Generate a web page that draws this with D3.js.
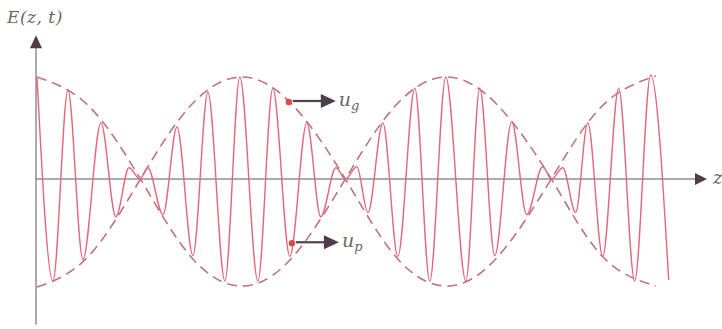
<!DOCTYPE html>
<html>
<head>
<meta charset="utf-8">
<script src="https://cdn.jsdelivr.net/npm/d3@7"></script>
<style>
  body { margin: 0; background: #fff; }
  svg { display: block; }
</style>
</head>
<body>
<svg id="wave" width="722" height="329"></svg>
<script>
// carrier extrema (z in arbitrary units, E normalised)
const carrierZ = [0, 0.78, 1.51, 2.24, 3.12, 3.85, 4.49, 5.02, 5.41, 6.15, 6.83, 7.61, 8.34, 9.17, 9.9,
  10.78, 11.51, 12.34, 13.17, 13.85, 14.59, 15.05, 15.61, 16.15, 16.88, 17.61, 18.44, 19.17, 19.95,
  20.93, 21.61, 22.34, 23.17, 23.9, 24.68, 25.12, 25.66, 26.29, 26.88, 27.61, 28.39, 29.17, 29.95, 30.83];
const carrierE = [1.0, -1.0, 0.87, -0.79, 0.55, -0.37, 0.11, 0.0, 0.11, -0.35, 0.51, -0.75, 0.85, -1.0, 1.0,
  -1.0, 0.89, -0.76, 0.55, -0.37, 0.11, 0.0, 0.12, -0.33, 0.55, -0.76, 0.89, -1.0, 1.0,
  -1.0, 0.89, -0.75, 0.56, -0.35, 0.12, 0.0, 0.11, -0.33, 0.55, -0.76, 0.89, -1.0, 1.02, -0.99];

// envelope (dashed), two mirrored curves
const envZ = [0, 2.5, 5.05, 7.5, 10.0, 12.5, 15.05, 17.5, 20.0, 22.5, 25.1, 27.6, 30.2];
const envA = [1.0, 0.72, 0, -0.76, -1.05, -0.76, 0, 0.72, 1.0, 0.72, 0, -0.76, -1.05];
const envB = [-1.06, -0.76, 0, 0.72, 1.0, 0.72, 0, -0.76, -1.05, -0.76, 0, 0.72, 1.01];

// axis extents and marker positions
const zAxisEnd = 32.7;
const eAxisTop = 1.41, eAxisBottom = -1.43;
const markers = [
  { z: 12.29, e: 0.755, label: "u", sub: "g" },
  { z: 12.44, e: -0.63, label: "u", sub: "p" }
];

const serif = '"DejaVu Serif", "Liberation Serif", serif';

const svg = d3.select("svg#wave");
const x = d3.scaleLinear().domain([0, zAxisEnd]).range([37, 707]);
const y = d3.scaleLinear().domain([-1, 1]).range([281, 77]);

const toPts = (zs, es) => zs.map((z, i) => ({ z: z, e: es[i] }));

const envLine = d3.line().curve(d3.curveNatural).x(d => x(d.z)).y(d => y(d.e));
const carLine = d3.line().curve(d3.curveMonotoneX).x(d => x(d.z)).y(d => y(d.e));

// axes
const axisCol = "#5a5458";
svg.append("line")
  .attr("x1", x(0) - 1).attr("x2", x(zAxisEnd) - 10)
  .attr("y1", y(0)).attr("y2", y(0))
  .attr("stroke", axisCol).attr("stroke-width", 1);
svg.append("line")
  .attr("x1", x(0) - 1).attr("x2", x(0) - 1)
  .attr("y1", y(eAxisTop) + 12).attr("y2", y(eAxisBottom))
  .attr("stroke", axisCol).attr("stroke-width", 1);

// arrowheads
const headCol = "#4e3c4a";
svg.append("path")
  .attr("d", `M${x(zAxisEnd)},${y(0)} L${x(zAxisEnd) - 12},${y(0) - 6} L${x(zAxisEnd) - 12},${y(0) + 6} Z`)
  .attr("fill", headCol);
svg.append("path")
  .attr("d", `M${x(0) - 1},${y(eAxisTop)} L${x(0) - 7},${y(eAxisTop) + 13} L${x(0) + 5},${y(eAxisTop) + 13} Z`)
  .attr("fill", headCol);

// envelope
[envA, envB].forEach(vals => {
  svg.append("path")
    .datum(toPts(envZ, vals))
    .attr("d", envLine)
    .attr("fill", "none")
    .attr("stroke", "#bd7480")
    .attr("stroke-width", 1.6)
    .attr("stroke-dasharray", "10,6");
});

// carrier
svg.append("path")
  .datum(toPts(carrierZ, carrierE))
  .attr("d", carLine)
  .attr("fill", "none")
  .attr("stroke", "#e4667a")
  .attr("stroke-width", 1.4);

// velocity markers
markers.forEach(m => {
  const cx = x(m.z), cy = y(m.e);
  svg.append("circle").attr("cx", cx).attr("cy", cy).attr("r", 3.2).attr("fill", "#e04848");
  svg.append("line")
    .attr("x1", cx + 4).attr("x2", cx + 33)
    .attr("y1", cy - 1).attr("y2", cy - 1)
    .attr("stroke", "#4e4448").attr("stroke-width", 2.2);
  svg.append("path")
    .attr("d", `M${cx + 47},${cy - 1} L${cx + 32},${cy - 8} L${cx + 32},${cy + 6} Z`)
    .attr("fill", headCol);
  const t = svg.append("text")
    .attr("x", cx + 50).attr("y", cy + 4)
    .attr("font-family", serif).attr("font-style", "italic").attr("fill", "#6b6466")
    .attr("font-size", 19);
  t.append("tspan").text(m.label);
  t.append("tspan").attr("dy", 4).attr("font-size", 13).text(m.sub);
});

// axis titles
svg.append("text")
  .attr("x", 7).attr("y", 23)
  .attr("font-family", serif).attr("font-style", "italic").attr("fill", "#6b6466")
  .attr("font-size", 17)
  .style("letter-spacing", "0.5px")
  .text("E(z, t)");
svg.append("text")
  .attr("x", x(zAxisEnd) + 6).attr("y", y(0) + 5)
  .attr("font-family", serif).attr("font-style", "italic").attr("fill", "#6b6466")
  .attr("font-size", 18)
  .text("z");
</script>
</body>
</html>
